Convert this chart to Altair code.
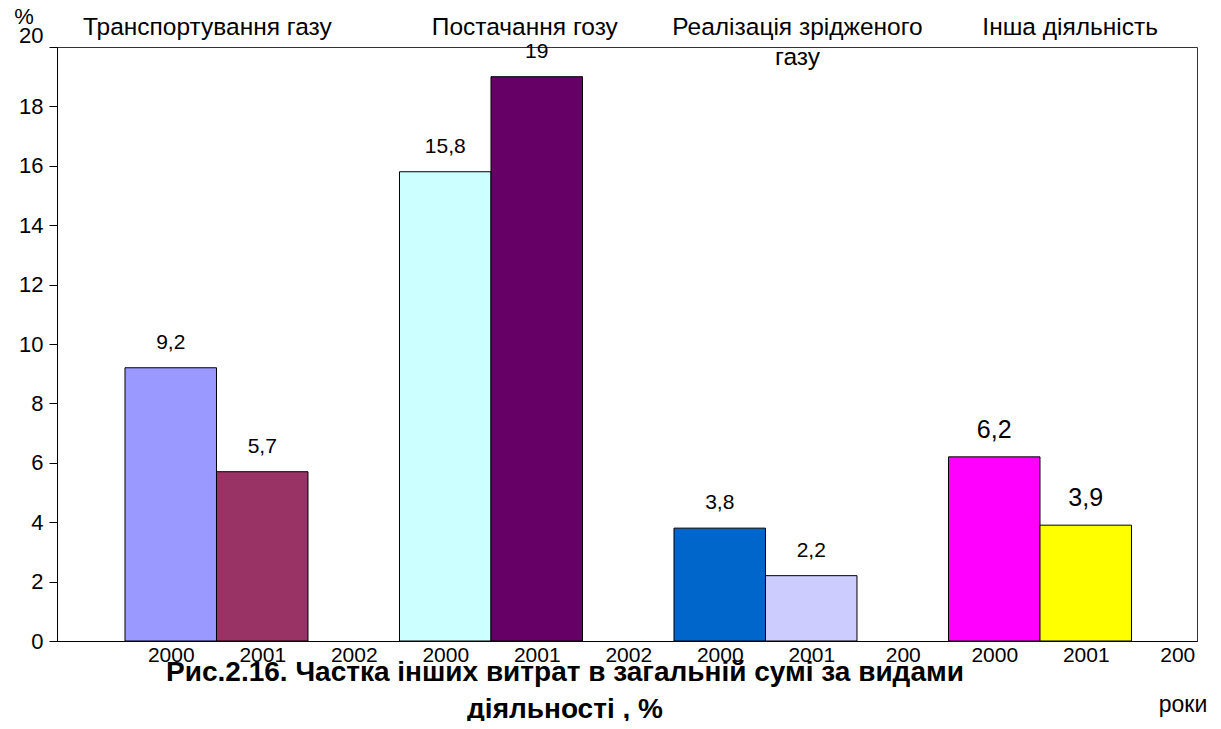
import altair as alt
import pandas as pd

# ---- data ----
groups = ["Транспортування газу", "Постачання гозу", "Реалізація зрідженого\nгазу", "Інша діяльність"]
years = ["2000", "2001", "2002"]
vals_transport = [9.2, 5.7]
vals_supply = [15.8, 19.0]
vals_lng = [3.8, 2.2]
vals_other = [6.2, 3.9]
colors_transport = ["#9999FF", "#993366"]
colors_supply = ["#CCFFFF", "#660066"]
colors_lng = ["#0066CC", "#CCCCFF"]
colors_other = ["#FF00FF", "#FFFF00"]
tick_labels = ["2000", "2001", "2002", "2000", "2001", "2002",
               "2000", "2001", "200", "2000", "2001", "200"]
y_ticks = [0, 2, 4, 6, 8, 10, 12, 14, 16, 18, 20]

FONT = "Liberation Sans"

rows = []
all_vals = [vals_transport, vals_supply, vals_lng, vals_other]
all_cols = [colors_transport, colors_supply, colors_lng, colors_other]
for g, (vals, cols) in enumerate(zip(all_vals, all_cols)):
    for i, v in enumerate(vals):
        slot = 3 * g + i
        rows.append({
            "group": groups[g], "year": years[i], "slot": slot,
            "value": v, "color": cols[i],
            "fs": 25 if g == 3 else 21,
        })
df = pd.DataFrame(rows)

# title anchor positions (in slot units along x)
title_pos = [0.9, 4.37, 7.35, 10.33]
titles = pd.DataFrame({"text": groups, "pos": title_pos})
one = pd.DataFrame({"k": [0]})

xscale = alt.Scale(domain=[-0.743, 11.716], nice=False, zero=False)
yscale = alt.Scale(domain=[0, 20], nice=False)

label_expr = "[" + ",".join("'%s'" % t for t in tick_labels) + "][floor(datum.value)]"

base = alt.Chart(df).transform_calculate(
    x0="datum.slot", x1="datum.slot + 1", xc="datum.slot + 0.5", y0="0",
    label="replace(toString(datum.value), '.', ',')",
)

bars = base.mark_bar(stroke="black", strokeWidth=1).encode(
    x=alt.X("x0:Q", scale=xscale, title=None,
            axis=alt.Axis(values=[k + 0.5 for k in range(12)], labelExpr=label_expr,
                          ticks=False, grid=False, domainColor="black",
                          labelFont=FONT, labelFontSize=21, labelColor="black",
                          labelPadding=3, labelOverlap=False, labelFlush=False)),
    x2="x1:Q",
    y=alt.Y("value:Q", scale=yscale, title=None,
            axis=alt.Axis(values=y_ticks, grid=False, domainColor="black",
                          tickColor="black", tickSize=8, labelPadding=6,
                          labelFont=FONT, labelFontSize=22, labelColor="black",
                          labelFlush=False, labelOverlap=False,
                          labelBaseline={"condition": {"test": "datum.value == 20", "value": "bottom"},
                                         "value": "middle"})),
    y2="y0:Q",
    color=alt.Color("color:N", scale=None),
)

value_labels = base.mark_text(font=FONT, baseline="alphabetic", dy=-19, color="black").encode(
    x="xc:Q", y="value:Q", text="label:N", size=alt.Size("fs:Q", scale=None),
)

title_layer = alt.Chart(titles).mark_text(
    font=FONT, fontSize=24.5, baseline="alphabetic", lineBreak="\n", lineHeight=30, color="black"
).encode(x="pos:Q", y=alt.value(-12), text="text:N")

pct = alt.Chart(one).mark_text(font=FONT, fontSize=22, color="black", baseline="alphabetic").encode(
    x=alt.value(-33), y=alt.value(-23), text=alt.value("%"))

caption = alt.Chart(one).mark_text(
    font=FONT, fontSize=28, fontWeight="bold", baseline="alphabetic",
    lineBreak="\n", lineHeight=37, color="black"
).encode(x=alt.value(508), y=alt.value(634),
         text=alt.value("Рис.2.16. Частка інших витрат в загальній сумі за видами\nдіяльності , %"))

roky = alt.Chart(one).mark_text(font=FONT, fontSize=23, baseline="alphabetic", color="black").encode(
    x=alt.value(1126), y=alt.value(665), text=alt.value("роки"))

chart = alt.layer(bars, value_labels, title_layer, pct, caption, roky).properties(
    width=1140, height=594,
    padding={"left": 49, "top": 39, "right": 16, "bottom": 80},
    autosize=alt.AutoSizeParams(type="none"),
    background="white",
).configure_view(stroke="#333333", strokeWidth=1)

chart.save("out.html", embed_options={"renderer": "svg", "actions": False})
